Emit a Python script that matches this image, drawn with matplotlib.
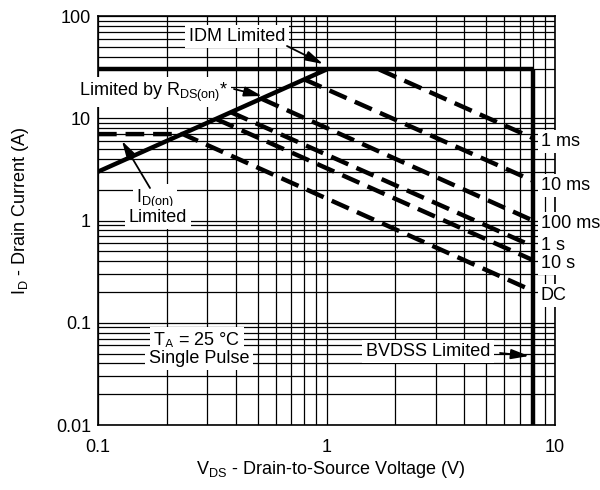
import matplotlib
matplotlib.use("Agg")
import matplotlib.pyplot as plt

plt.rcParams['font.family'] = ['Liberation Sans', 'DejaVu Sans']
plt.rcParams['mathtext.default'] = 'regular'

# ---- data ----
# boundary limits (solid, thick)
rds_v = [0.1, 1.0]
rds_i = [3.0, 30.0]
idm_v = [0.1, 8.0]
idm_i = [30.0, 30.0]
bvdss_v = [8.0, 8.0]
bvdss_i = [30.0, 0.01]

# pulse-width SOA curves (dashed)
pulse_labels = ["1 ms", "10 ms", "100 ms", "1 s", "10 s", "DC"]
pulse_v = [
    [1.7, 8.0],
    [0.8, 8.0],
    [0.52, 8.0],
    [0.38, 8.0],
    [0.33, 8.0],
    [0.1, 0.235, 8.0],
]
pulse_i = [
    [30.0, 6.4],
    [24.0, 2.45],
    [15.5, 1.0],
    [11.5, 0.56],
    [9.8, 0.41],
    [7.0, 7.0, 0.205],
]

x_ticks = [0.1, 1, 10]
x_ticklabels = ["0.1", "1", "10"]
y_ticks = [0.01, 0.1, 1, 10, 100]
y_ticklabels = ["0.01", "0.1", "1", "10", "100"]

# ---- figure ----
fig = plt.figure(figsize=(6, 4.9), dpi=100)
ax = fig.add_axes([98/600, 1-425/490, 457/600, 409/490])
ax.set_xscale('log')
ax.set_yscale('log')
ax.set_xlim(0.1, 10)
ax.set_ylim(0.01, 100)

ax.grid(True, which='both', color='black', lw=0.9)
ax.set_axisbelow(True)
for s in ax.spines.values():
    s.set_linewidth(1.2)

ax.set_xticks(x_ticks)
ax.set_xticklabels(x_ticklabels)
ax.set_yticks(y_ticks)
ax.set_yticklabels(y_ticklabels)
ax.tick_params(which='both', length=0, labelsize=13)
ax.tick_params(axis='x', pad=10)
ax.tick_params(axis='y', pad=5)

solid_kw = dict(color='black', lw=3.2, solid_capstyle='butt', zorder=4)
ax.plot(rds_v, rds_i, **solid_kw)
ax.plot(idm_v, idm_i, **solid_kw)
ax.plot(bvdss_v, bvdss_i, **solid_kw)

for v, i in zip(pulse_v, pulse_i):
    ln, = ax.plot(v, i, color='black', lw=3.2, zorder=4, dash_capstyle='butt')
    ln.set_dashes((4.2, 2.0))

box = dict(facecolor='white', edgecolor='none', pad=2.5)
fs = 13
tkw = dict(transform=ax.transAxes, fontsize=fs, bbox=box, zorder=5, clip_on=False)

def fx(px):
    return (px - 98) / 457

def fy(py):
    return (425 - py) / 409

# right-side pulse labels
label_base_py = [146, 190, 228, 250, 268, 300]
for lab, py in zip(pulse_labels, label_base_py):
    ax.text(fx(541), fy(py), lab, ha='left', va='baseline', **tkw)

arrow_kw = dict(arrowstyle='-|>,head_length=0.9,head_width=0.25', color='black',
                lw=1.3, shrinkA=0, shrinkB=0, mutation_scale=12)

def arrow(p0, p1):
    ax.annotate('', xy=(fx(p1[0]), fy(p1[1])), xytext=(fx(p0[0]), fy(p0[1])),
                xycoords='axes fraction', textcoords='axes fraction',
                arrowprops=arrow_kw, zorder=6, annotation_clip=False)

# IDM Limited
ax.text(fx(237), fy(41), "IDM Limited", ha='center', va='baseline', **tkw)
arrow((287, 46), (323, 64))

# Limited by RDS(on)*
ax.text(fx(228), fy(96), "Limited by R$_{DS(on)}$*", ha='right', va='baseline', **tkw)
arrow((234, 89), (262, 96))

# ID(on) Limited
ax.text(fx(155), fy(203), "I$_{D(on)}$", ha='center', va='baseline', **tkw)
ax.text(fx(158), fy(222), "Limited", ha='center', va='baseline', **tkw)
arrow((150, 188), (122, 141))

# TA = 25 C single pulse
ax.text(fx(197), fy(345), "T$_A$ = 25 °C", ha='center', va='baseline', **tkw)
ax.text(fx(199), fy(363), "Single Pulse", ha='center', va='baseline', **tkw)

# BVDSS Limited
ax.text(fx(428), fy(356), "BVDSS Limited", ha='center', va='baseline', **tkw)
arrow((500, 353), (529, 356))

ax.set_xlabel("V$_{DS}$ - Drain-to-Source Voltage (V)", fontsize=13)
ax.xaxis.set_label_coords(0.51, fy(459))
ax.set_ylabel("I$_D$ - Drain Current (A)", fontsize=13)
ax.yaxis.set_label_coords(fx(31), 0.524)

fig.savefig("out.png", dpi=100)
